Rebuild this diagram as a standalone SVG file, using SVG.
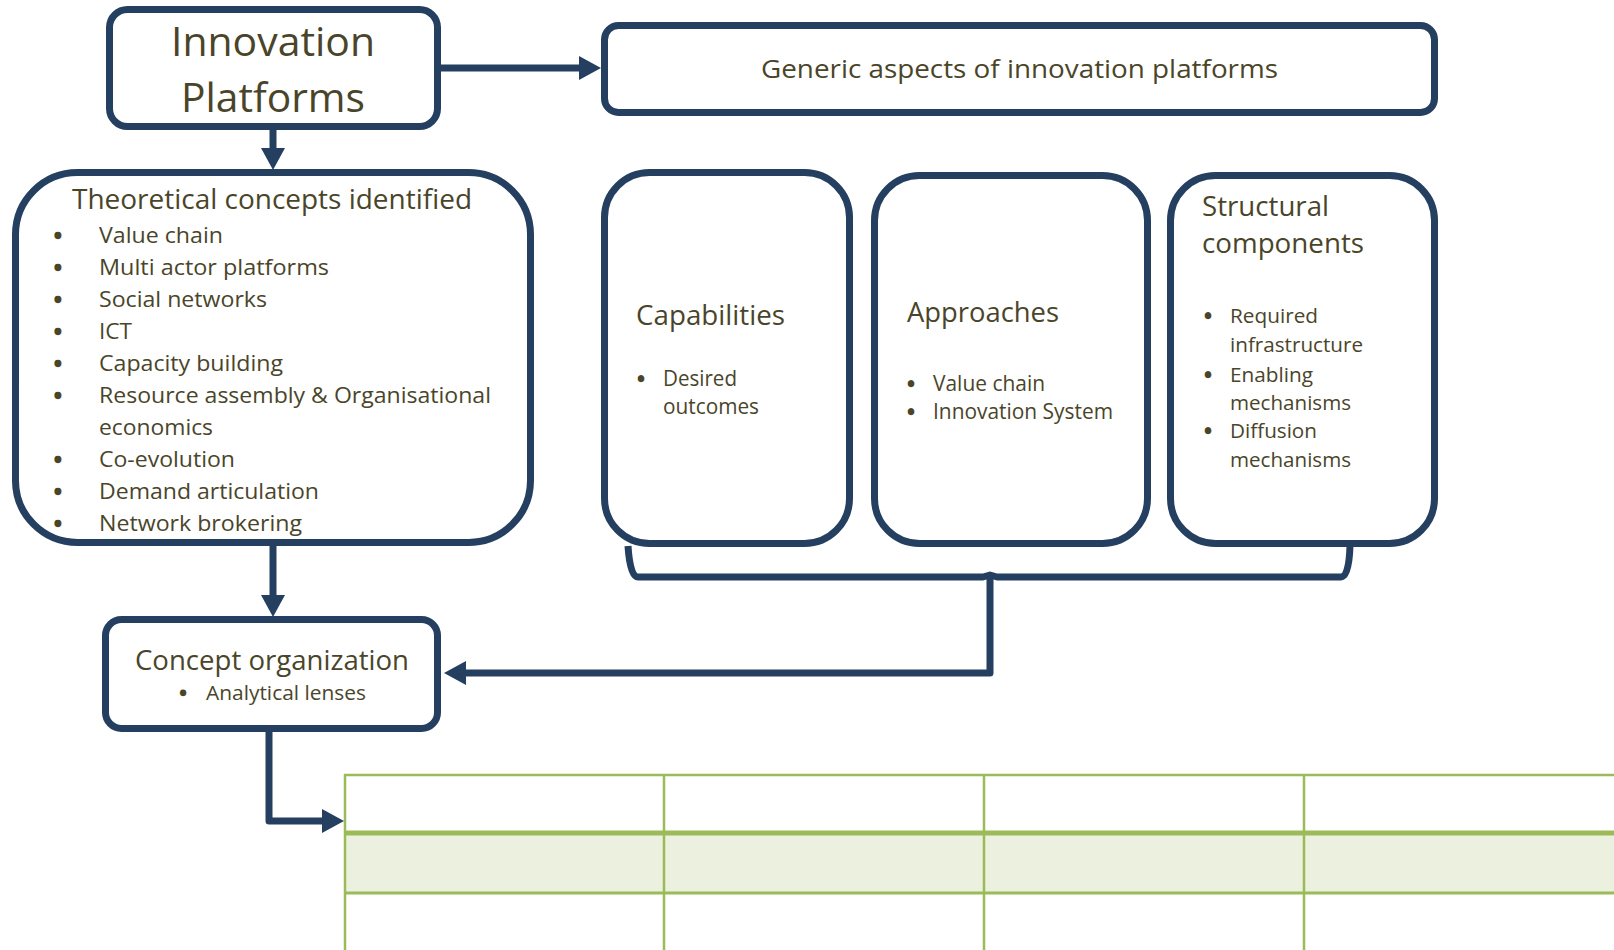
<svg xmlns="http://www.w3.org/2000/svg" width="1614" height="950" viewBox="0 0 1614 950">
<style>
.box{fill:#ffffff;stroke:#253f60;stroke-width:7}
.conn{fill:none;stroke:#253f60;stroke-width:7;stroke-linejoin:round}
.t{font-family:"Open Sans","Noto Sans",sans-serif;fill:#4a452a}
.b{font-family:"Open Sans","Noto Sans",sans-serif;fill:#4a452a;stroke:#4a452a;stroke-width:2.4;text-anchor:middle}
.g{stroke:#9bbb59;fill:none}
</style>
<defs>
<marker id="ah" markerUnits="userSpaceOnUse" markerWidth="24" markerHeight="26" refX="1" refY="12" orient="auto">
<path d="M0,0 L22,12 L0,24 Z" fill="#253f60"/>
</marker>
</defs>
<rect width="1614" height="950" fill="#ffffff"/>

<g id="table">
<rect x="344" y="835" width="1270" height="58" fill="#ebf1de"/>
<line class="g" x1="344" y1="775" x2="1614" y2="775" stroke-width="2.5"/>
<line class="g" x1="344" y1="833" x2="1614" y2="833" stroke-width="5"/>
<line class="g" x1="344" y1="893" x2="1614" y2="893" stroke-width="3"/>
<line class="g" x1="345" y1="774" x2="345" y2="950" stroke-width="2.5"/>
<line class="g" x1="664" y1="774" x2="664" y2="950" stroke-width="2.5"/>
<line class="g" x1="984" y1="774" x2="984" y2="950" stroke-width="2.5"/>
<line class="g" x1="1304" y1="774" x2="1304" y2="950" stroke-width="2.5"/>
</g>

<g id="connectors">
<path class="conn" d="M441,68 H580" marker-end="url(#ah)"/>
<path class="conn" d="M273,130 V149" marker-end="url(#ah)"/>
<path class="conn" d="M273,546 V596" marker-end="url(#ah)"/>
<path class="conn" d="M628,546 Q630,577 638,577 H983 L990,575 L997,577 H1341 Q1349,577 1350,546"/>
<path class="conn" d="M990,576 V673 H465" marker-end="url(#ah)"/>
<path class="conn" d="M269,732 V821 H323" marker-end="url(#ah)"/>
</g>

<g id="innovation-platforms">
<rect class="box" x="109.5" y="9.5" width="328" height="117" rx="18"/>
<text class="t" x="171" y="56" font-size="41" textLength="204" lengthAdjust="spacingAndGlyphs">Innovation</text>
<text class="t" x="181" y="112" font-size="41" textLength="184" lengthAdjust="spacingAndGlyphs">Platforms</text>
</g>

<g id="generic-aspects">
<rect class="box" x="604.5" y="25.5" width="830" height="87" rx="14"/>
<text class="t" x="761" y="78" font-size="25" textLength="517" lengthAdjust="spacingAndGlyphs">Generic aspects of innovation platforms</text>
</g>

<g id="theoretical-concepts">
<rect class="box" x="15.5" y="172.5" width="515" height="370" rx="62"/>
<text class="t" x="72" y="209" font-size="28" textLength="400" lengthAdjust="spacingAndGlyphs">Theoretical concepts identified</text>
<g class="b" font-size="22">
<text x="58" y="243">•</text><text x="58" y="275">•</text><text x="58" y="307">•</text><text x="58" y="339">•</text><text x="58" y="371">•</text><text x="58" y="403">•</text><text x="58" y="467">•</text><text x="58" y="499">•</text><text x="58" y="531">•</text>
</g>
<g class="t" font-size="22">
<text x="99" y="243" textLength="124" lengthAdjust="spacingAndGlyphs">Value chain</text>
<text x="99" y="275" textLength="230" lengthAdjust="spacingAndGlyphs">Multi actor platforms</text>
<text x="99" y="307" textLength="168" lengthAdjust="spacingAndGlyphs">Social networks</text>
<text x="99" y="339" textLength="33" lengthAdjust="spacingAndGlyphs">ICT</text>
<text x="99" y="371" textLength="184" lengthAdjust="spacingAndGlyphs">Capacity building</text>
<text x="99" y="403" textLength="392" lengthAdjust="spacingAndGlyphs">Resource assembly &amp; Organisational</text>
<text x="99" y="435" textLength="114" lengthAdjust="spacingAndGlyphs">economics</text>
<text x="99" y="467" textLength="136" lengthAdjust="spacingAndGlyphs">Co-evolution</text>
<text x="99" y="499" textLength="220" lengthAdjust="spacingAndGlyphs">Demand articulation</text>
<text x="99" y="531" textLength="203" lengthAdjust="spacingAndGlyphs">Network brokering</text>
</g>
</g>

<g id="capabilities">
<rect class="box" x="604.5" y="172.5" width="245" height="371" rx="45"/>
<text class="t" x="636" y="325" font-size="27" textLength="149" lengthAdjust="spacingAndGlyphs">Capabilities</text>
<text class="b" x="641" y="386" font-size="20" stroke-width="2">•</text>
<g class="t" font-size="21">
<text x="663" y="386" textLength="74" lengthAdjust="spacingAndGlyphs">Desired</text>
<text x="663" y="414" textLength="96" lengthAdjust="spacingAndGlyphs">outcomes</text>
</g>
</g>

<g id="approaches">
<rect class="box" x="874.5" y="175.5" width="273" height="368" rx="45"/>
<text class="t" x="907" y="322" font-size="27" textLength="152" lengthAdjust="spacingAndGlyphs">Approaches</text>
<g class="b" font-size="20" stroke-width="2">
<text x="911" y="391">•</text><text x="911" y="419">•</text>
</g>
<g class="t" font-size="21">
<text x="933" y="391" textLength="112" lengthAdjust="spacingAndGlyphs">Value chain</text>
<text x="933" y="419" textLength="180" lengthAdjust="spacingAndGlyphs">Innovation System</text>
</g>
</g>

<g id="structural-components">
<rect class="box" x="1170.5" y="175.5" width="264" height="368" rx="45"/>
<text class="t" x="1202" y="216" font-size="27" textLength="127" lengthAdjust="spacingAndGlyphs">Structural</text>
<text class="t" x="1202" y="253" font-size="27" textLength="162" lengthAdjust="spacingAndGlyphs">components</text>
<g class="b" font-size="20" stroke-width="2">
<text x="1208" y="323">•</text><text x="1208" y="382">•</text><text x="1208" y="438">•</text>
</g>
<g class="t" font-size="20">
<text x="1230" y="323" textLength="88" lengthAdjust="spacingAndGlyphs">Required</text>
<text x="1230" y="352" textLength="133" lengthAdjust="spacingAndGlyphs">infrastructure</text>
<text x="1230" y="382" textLength="83" lengthAdjust="spacingAndGlyphs">Enabling</text>
<text x="1230" y="410" textLength="121" lengthAdjust="spacingAndGlyphs">mechanisms</text>
<text x="1230" y="438" textLength="87" lengthAdjust="spacingAndGlyphs">Diffusion</text>
<text x="1230" y="467" textLength="121" lengthAdjust="spacingAndGlyphs">mechanisms</text>
</g>
</g>

<g id="concept-organization">
<rect class="box" x="105.5" y="619.5" width="332" height="109" rx="16"/>
<text class="t" x="135" y="670" font-size="28" textLength="274" lengthAdjust="spacingAndGlyphs">Concept organization</text>
<text class="b" x="183" y="700" font-size="19" stroke-width="2">•</text>
<text class="t" x="206" y="700" font-size="20" textLength="160" lengthAdjust="spacingAndGlyphs">Analytical lenses</text>
</g>
</svg>
